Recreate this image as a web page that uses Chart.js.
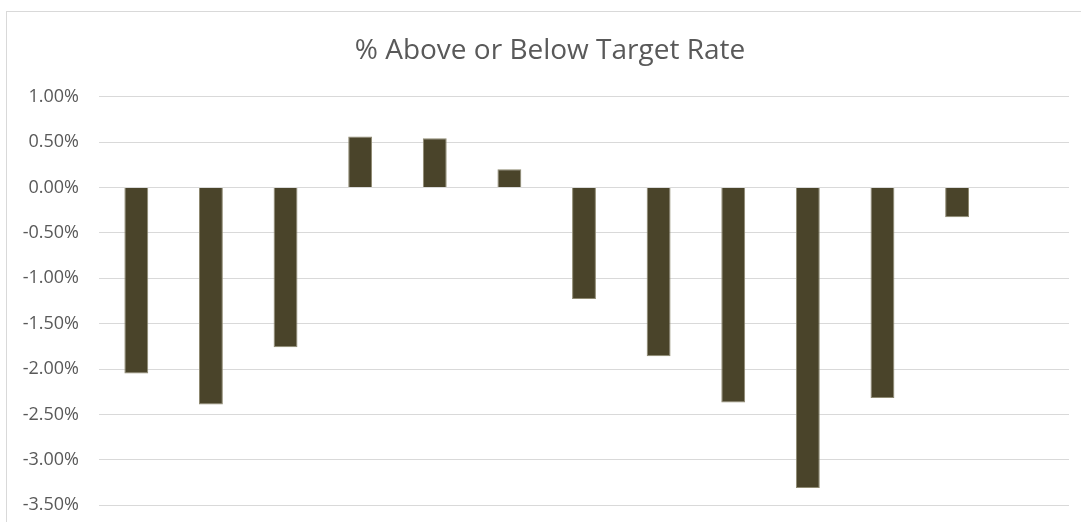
<!DOCTYPE html>
<html>
<head>
<meta charset="utf-8">
<script src="https://cdn.jsdelivr.net/npm/chart.js@4.4.0/dist/chart.umd.min.js"></script>
<style>
  html, body { margin: 0; padding: 0; background: #fff; overflow: hidden; }
  #wrap {
    position: absolute; left: 6px; top: 11px;
    width: 1086px; height: 524px;
    border-top: 1px solid #d9d9d9; border-left: 1px solid #d9d9d9;
  }
  #chart { display: block; }
</style>
</head>
<body>
<div id="wrap"><canvas id="chart" width="1086" height="524"></canvas></div>
<script>
// periods (no axis labels shown in the original), last slot left empty
const categorias = ['1','2','3','4','5','6','7','8','9','10','11','12','13'];
const desvio     = [-2.05, -2.39, -1.76, 0.56, 0.54, 0.20, -1.23, -1.86, -2.37, -3.31, -2.32, -0.33, null];
const ticksY     = [1.00, 0.50, 0.00, -0.50, -1.00, -1.50, -2.00, -2.50, -3.00, -3.50];

const grafCanvas = document.getElementById('chart').getContext('2d');

// centre the title on the whole frame, not only the padded area
const tituloCentrado = {
  id: 'tituloCentrado',
  afterLayout(chart) { if (chart.titleBlock) chart.titleBlock.right = chart.width; }
};

new Chart(grafCanvas, {
  type: 'bar',
  data: {
    labels: categorias,
    datasets: [{
      label          : '% Above or Below Target Rate',
      data           : desvio,
      backgroundColor: '#4a442a',
      borderColor    : '#8f8a72',
      borderWidth    : 1,
      barPercentage  : 0.32,
      categoryPercentage: 1.0
    }]
  },
  plugins: [tituloCentrado],
  options: {
    responsive: false,
    animation: false,
    devicePixelRatio: 1,
    layout: { padding: { left: 0, right: 24, top: 0, bottom: 0 } },
    plugins: {
      legend : { display: false },
      tooltip: { enabled: false },
      title  : {
        display: true,
        text   : '% Above or Below Target Rate',
        color  : '#595959',
        font   : { family: 'Open Sans', size: 28, weight: 'normal' },
        padding: { top: 22, bottom: 29 }
      }
    },
    scales: {
      x: { display: false },
      y: {
        min: ticksY[ticksY.length - 1],
        max: ticksY[0],
        afterBuildTicks: s => { s.ticks = ticksY.map(v => ({ value: v })); },
        afterFit: s => { s.width = 92; },
        border: { display: false },
        grid  : { color: '#d9d9d9', lineWidth: 1, drawTicks: false },
        ticks : {
          color   : '#595959',
          font    : { family: 'Open Sans', size: 18 },
          padding : 20,
          callback: v => v.toFixed(2) + '%'
        }
      }
    }
  }
});
</script>
</body>
</html>
